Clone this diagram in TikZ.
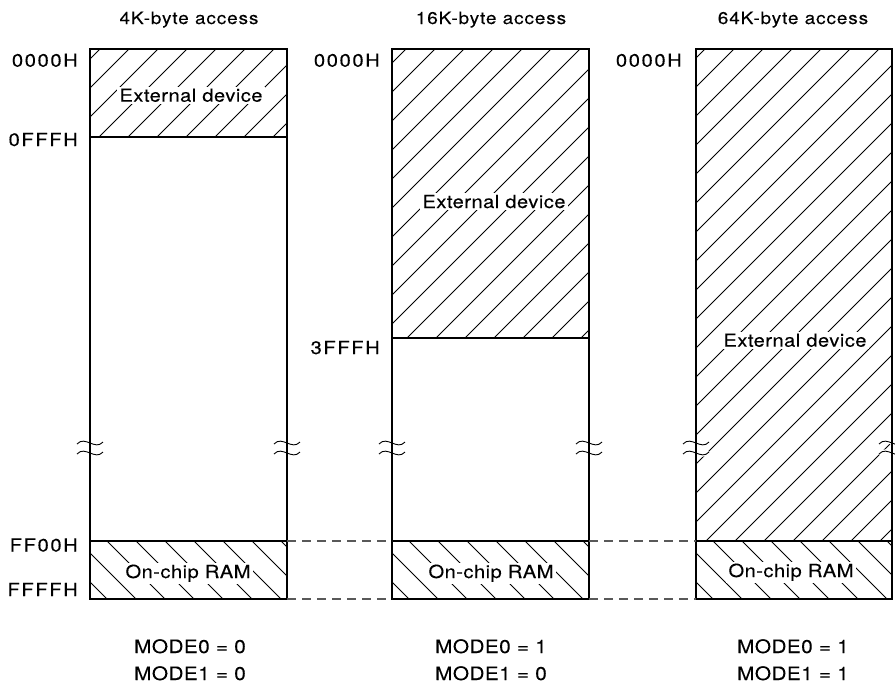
\documentclass[tikz,border=0pt]{standalone}
\usepackage{fontspec}
\setmainfont{TeX Gyre Heros}[FakeStretch=1.12, LetterSpace=2.5, FakeBold=0.15]
\newfontfamily\addrfont{TeX Gyre Heros}[FakeStretch=1.12, LetterSpace=9, FakeBold=0.15]
\newfontfamily\titlefont{TeX Gyre Heros}[FakeStretch=1.12, LetterSpace=5, FakeBold=0.15]
% lines x+y=c
\newcommand\hatchF[5]{%
 \begin{scope}
 \clip (#1,#2) rectangle (#3,#4);
 \pgfmathtruncatemacro\hn{((#3+#4)-(#1+#2))/29+2}
 \foreach \k in {0,...,\hn}{
   \pgfmathsetmacro\hc{#1+#2+#5-29+29*\k}
   \draw[hatchline] (\hc-#2,#2) -- (\hc-#4,#4);
 }
 \end{scope}}
% lines x-y=c
\newcommand\hatchB[5]{%
 \begin{scope}
 \clip (#1,#2) rectangle (#3,#4);
 \pgfmathtruncatemacro\hm{(#4-#2)/29+1}
 \pgfmathtruncatemacro\hn{\hm+(#3-#1)/29+2}
 \foreach \k in {0,...,\hn}{
   \pgfmathsetmacro\hc{#1-#2+#5+29*(\k-\hm)}
   \draw[hatchline] (\hc+#2,#2) -- (\hc+#4,#4);
 }
 \end{scope}}
\newcommand\brkmark[2]{%
  \draw[tildebg] (#1-13,#2-4) .. controls (#1-5,#2-13) and (#1+5,#2+3) .. (#1+13,#2-6);
  \draw[tildebg] (#1-13,#2+6) .. controls (#1-5,#2-3) and (#1+5,#2+13) .. (#1+13,#2+4);
}
\newcommand\brkline[2]{%
  \draw[tilde] (#1-13,#2-4) .. controls (#1-5,#2-13) and (#1+5,#2+3) .. (#1+13,#2-6);
  \draw[tilde] (#1-13,#2+6) .. controls (#1-5,#2-3) and (#1+5,#2+13) .. (#1+13,#2+4);
}
\begin{document}
\begin{tikzpicture}[x=1pt,y=-1pt,
  box/.style={line width=2.6pt},
  divline/.style={line width=1.3pt},
  hatchline/.style={line width=0.8pt},
  guide/.style={dash pattern=on 9pt off 6pt, line width=1.1pt, black!65},
  lbl/.style={inner sep=2pt, fill=white, anchor=base, font=\fontsize{18}{21}\selectfont},
  addr/.style={inner sep=0pt, anchor=base east, font=\addrfont\fontsize{18}{21}\selectfont},
  ttl/.style={inner sep=0pt, anchor=base, font=\titlefont\fontsize{17}{20}\selectfont},
  mode/.style={inner sep=0pt, anchor=base, font=\fontsize{18.5}{22}\selectfont},
  tilde/.style={line width=0.9pt},
  tildebg/.style={line width=3.5pt, white}]
\useasboundingbox (0,0) rectangle (895,686);

% hatching
\hatchF{90}{49}{287}{137}{10}
\hatchB{90}{541}{287}{599}{17}
\hatchF{392}{49}{589}{338}{14}
\hatchB{392}{541}{589}{599}{17}
\hatchF{696}{49}{892}{541}{9}
\hatchB{696}{541}{892}{599}{17}

% break mark backgrounds
\foreach \bx in {90,287,392,589,696,892} { \brkmark{\bx}{448} }

% coordinates
\coordinate (a1) at (90,49);  \coordinate (a2) at (287,599);
\coordinate (b1) at (392,49); \coordinate (b2) at (589,599);
\coordinate (c1) at (696,49); \coordinate (c2) at (892,599);
\coordinate (aR1) at (287,541); \coordinate (bL1) at (392,541);
\coordinate (bR1) at (589,541); \coordinate (cL1) at (696,541);
\coordinate (aR2) at (287,599); \coordinate (bL2) at (392,599);
\coordinate (bR2) at (589,599); \coordinate (cL2) at (696,599);

% division lines
\draw[divline] (90,137) -- (287,137);
\draw[divline] (90,541) -- (287,541);
\draw[divline] (392,338) -- (589,338);
\draw[divline] (392,541) -- (589,541);
\draw[divline] (696,541) -- (892,541);

% boxes
\draw[box] (a1) rectangle (a2);
\draw[box] (b1) rectangle (b2);
\draw[box] (c1) rectangle (c2);

% dashed guides
\draw[guide] (aR1) -- (bL1);
\draw[guide] (bR1) -- (cL1);
\draw[guide] (aR2) -- (bL2);
\draw[guide] (bR2) -- (cL2);

% break marks
\foreach \bx in {90,287,392,589,696,892} { \brkline{\bx}{448} }

% titles
\node[ttl] (t1) at (189,24) {4K-byte access};
\node[ttl] (t2) at (491,24) {16K-byte access};
\node[ttl] (t3) at (793,24) {64K-byte access};

% addresses
\node[addr] (a0000) at (78,66.7) {0000H};
\node[addr] (a0fff) at (78,146) {0FFFH};
\node[addr] (aff00) at (78,551.5) {FF00H};
\node[addr] (affff) at (78,596) {FFFFH};
\node[addr] (b0000) at (380,66.7) {0000H};
\node[addr] (b3fff) at (380,354) {3FFFH};
\node[addr] (c0000) at (682,66.7) {0000H};

% region labels
\node[lbl] (ext1) at (191,101.7) {External device};
\node[lbl] (ext2) at (494,208) {External device};
\node[lbl] (ext3) at (795,346.7) {External device};
\node[lbl] (ram1) at (188,578) {On-chip RAM};
\node[lbl] (ram2) at (491,578) {On-chip RAM};
\node[lbl] (ram3) at (791,577) {On-chip RAM};

% modes
\node[mode] (m10) at (190,653) {MODE0 = 0};
\node[mode] (m11) at (190,680) {MODE1 = 0};
\node[mode] (m20) at (491,653) {MODE0 = 1};
\node[mode] (m21) at (491,680) {MODE1 = 0};
\node[mode] (m30) at (793,653) {MODE0 = 1};
\node[mode] (m31) at (793,680) {MODE1 = 1};
\end{tikzpicture}
\end{document}
